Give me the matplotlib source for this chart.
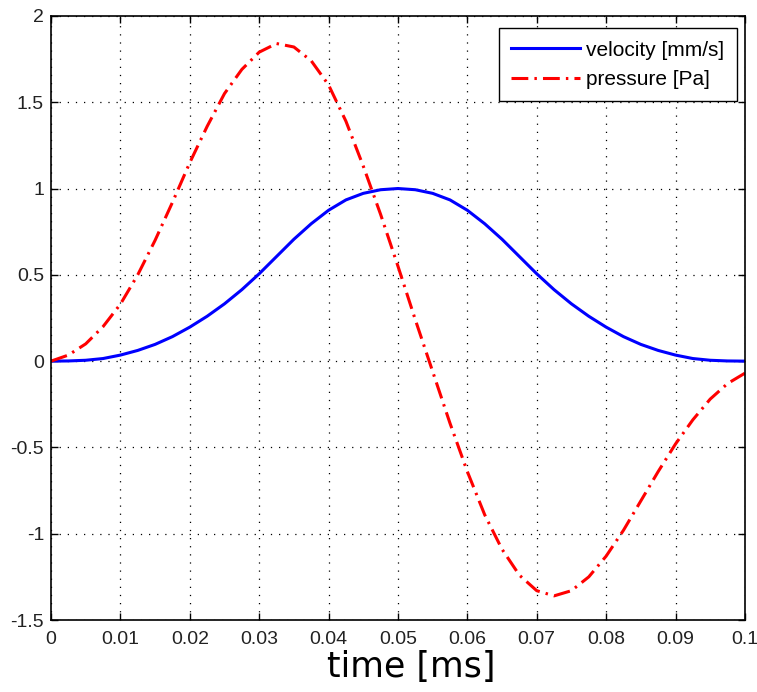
import matplotlib
matplotlib.use('Agg')
import matplotlib.pyplot as plt

# time axis [ms] and values
time = [0.0, 0.0025, 0.005, 0.0075, 0.01, 0.0125, 0.015, 0.0175, 0.02, 0.0225,
        0.025, 0.0275, 0.03, 0.0325, 0.035, 0.0375, 0.04, 0.0425, 0.045, 0.0475,
        0.05, 0.0525, 0.055, 0.0575, 0.06, 0.0625, 0.065, 0.0675, 0.07, 0.0725,
        0.075, 0.0775, 0.08, 0.0825, 0.085, 0.0875, 0.09, 0.0925, 0.095, 0.0975, 0.1]

velocity = [0.0, 0.001, 0.005, 0.015, 0.035, 0.062, 0.097, 0.142, 0.197, 0.26,
            0.332, 0.414, 0.506, 0.606, 0.706, 0.796, 0.874, 0.934, 0.972, 0.993,
            1.0, 0.993, 0.972, 0.934, 0.874, 0.796, 0.706, 0.606, 0.506, 0.414,
            0.332, 0.26, 0.197, 0.142, 0.097, 0.062, 0.035, 0.015, 0.005, 0.001, 0.0]

pressure = [0.0, 0.035, 0.1, 0.2, 0.33, 0.5, 0.7, 0.92, 1.15, 1.36,
            1.55, 1.69, 1.79, 1.84, 1.82, 1.74, 1.6, 1.39, 1.13, 0.85,
            0.55, 0.24, -0.06, -0.36, -0.64, -0.89, -1.09, -1.24, -1.33, -1.36,
            -1.33, -1.25, -1.13, -0.98, -0.81, -0.64, -0.48, -0.34, -0.22, -0.13, -0.07]

xticks = [0, 0.01, 0.02, 0.03, 0.04, 0.05, 0.06, 0.07, 0.08, 0.09, 0.1]
xticklabels = ['0', '0.01', '0.02', '0.03', '0.04', '0.05', '0.06', '0.07', '0.08', '0.09', '0.1']
yticks = [-1.5, -1, -0.5, 0, 0.5, 1, 1.5, 2]
yticklabels = ['-1.5', '-1', '-0.5', '0', '0.5', '1', '1.5', '2']

sans = ['Liberation Sans', 'DejaVu Sans']

fig = plt.figure(figsize=(7.57, 6.92), dpi=100)
ax = fig.add_axes([0.0674, 0.104, 0.9166, 0.873])

ax.plot(time, velocity, color='#0000ff', lw=2.2, label='velocity [mm/s]')
ax.plot(time, pressure, color='#ff0000', lw=2.2, linestyle=(0, (5.5, 2.0, 0.8, 2.0)),
        label='pressure [Pa]')

ax.set_xlim(0, 0.1)
ax.set_ylim(-1.5, 2)
ax.set_xticks(xticks)
ax.set_xticklabels(xticklabels, family=sans, fontsize=14, color='#222222')
ax.set_yticks(yticks)
ax.set_yticklabels(yticklabels, family=sans, fontsize=14, color='#222222')

ax.tick_params(direction='in', length=5, width=1, top=True, right=True)
ax.tick_params(axis='x', pad=8)
ax.tick_params(axis='y', pad=5)
for s in ax.spines.values():
    s.set_linewidth(1.2)

ax.grid(True, color='black', linestyle=(0, (1, 5.5)), linewidth=0.9)

ax.set_xlabel('time [ms]', fontsize=25, family='DejaVu Sans')
ax.xaxis.set_label_coords(0.519, -0.05, transform=ax.transAxes)
ax.xaxis.label.set_verticalalignment('top')

leg = ax.legend(loc='upper right', bbox_to_anchor=(737 / 757, 1 - 28 / 692),
                bbox_transform=fig.transFigure, borderaxespad=0,
                prop={'family': sans, 'size': 15},
                fancybox=False, framealpha=1, edgecolor='black',
                handlelength=3.3, handletextpad=0.3,
                borderpad=0.6, labelspacing=0.5)
leg.get_frame().set_linewidth(1.0)

plt.savefig('out.png', dpi=100)
